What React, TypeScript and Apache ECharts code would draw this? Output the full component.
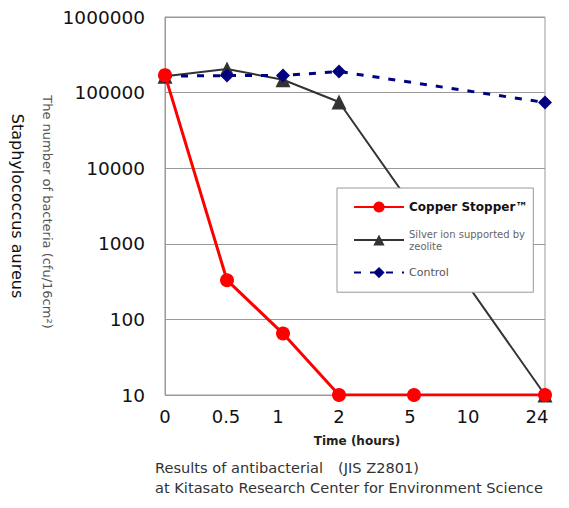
import React, { useEffect, useRef } from "react";
import * as echarts from "echarts";

// Time tick labels and their slot positions on the horizontal axis
const timeLabels = ["0", "0.5", "1", "2", "5", "10", "24"];
const labelSlots = [0, 12.2, 22.6, 34.8, 49, 60.6, 74.4];

// Slot positions at which measurements were plotted (0, 0.5, 1, 2, 5, 24 h)
const slot0 = 0;
const slot05 = 12.4;
const slot1 = 23.6;
const slot2 = 34.8;
const slot5 = 49.8;
const slot24 = 76;

const copperSlots = [slot0, slot05, slot1, slot2, slot5, slot24];
const copperValues = [170000, 330, 65, 10, 10, 10];

const silverSlots = [slot0, slot05, slot1, slot2, slot24];
const silverValues = [165000, 205000, 148000, 75000, 10];

const controlSlots = [slot0, slot05, slot1, slot2, slot24];
const controlValues = [165000, 168000, 168000, 190000, 74000];

const yTicks = [10, 100, 1000, 10000, 100000, 1000000];

const FONT = "DejaVu Sans, Verdana, sans-serif";

function zip(xs: number[], ys: number[]) {
  return xs.map((x, i) => [x, ys[i]]);
}

export default function App() {
  const ref = useRef<HTMLDivElement>(null);
  useEffect(() => {
    if (!ref.current) return;
    const chart = echarts.init(ref.current, null, { renderer: "svg" });
    chart.setOption({
      animation: false,
      backgroundColor: "#fff",
      grid: {
        left: 165,
        right: 24,
        top: 17,
        bottom: 113,
        show: true,
        borderColor: "#999",
        borderWidth: 1,
      },
      xAxis: {
        type: "value",
        min: 0,
        max: 76,
        axisLine: { show: false },
        axisTick: { show: false },
        splitLine: { show: false },
        axisLabel: {
          customValues: labelSlots,
          formatter: (v: number) => {
            const i = labelSlots.findIndex((s) => Math.abs(s - v) < 1e-6);
            return i >= 0 ? timeLabels[i] : "";
          },
          fontSize: 18,
          color: "#111",
          fontFamily: FONT,
          margin: 12,
        },
      },
      yAxis: {
        type: "log",
        logBase: 10,
        min: 10,
        max: 1000000,
        axisLine: { show: true, lineStyle: { color: "#999" } },
        axisTick: { show: false },
        splitLine: { show: true, lineStyle: { color: "#999", width: 1 } },
        axisLabel: {
          fontSize: 18.5,
          color: "#111",
          fontFamily: FONT,
          margin: 20,
          formatter: (v: number) => {
            const t = yTicks.find((k) => Math.abs(k - v) / k < 1e-6);
            return t !== undefined ? String(t) : "";
          },
        },
      },
      legend: {
        orient: "vertical",
        left: 337,
        top: 188,
        backgroundColor: "#fff",
        borderColor: "#999",
        borderWidth: 1,
        padding: [13, 6, 14, 16],
        itemGap: 15,
        itemWidth: 50,
        itemHeight: 14,
        data: [
          {
            name: "Copper Stopper™",
            textStyle: { fontWeight: "bold", fontSize: 12, color: "#111", fontFamily: FONT },
          },
          {
            name: "Silver ion supported by\nzeolite",
            textStyle: { fontSize: 10, color: "#666", fontFamily: FONT, lineHeight: 12 },
          },
          {
            name: "Control",
            textStyle: { fontSize: 11, color: "#555", fontFamily: FONT },
          },
        ],
      },
      series: [
        {
          name: "Silver ion supported by\nzeolite",
          type: "line",
          data: zip(silverSlots, silverValues),
          symbol: "triangle",
          symbolSize: 15,
          itemStyle: { color: "#333" },
          lineStyle: { color: "#333", width: 2 },
          z: 2,
        },
        {
          name: "Control",
          type: "line",
          data: zip(controlSlots, controlValues),
          symbol: "diamond",
          symbolSize: 14,
          itemStyle: { color: "#000080" },
          lineStyle: { color: "#000080", width: 3, type: [7, 9] },
          z: 3,
        },
        {
          name: "Copper Stopper™",
          type: "line",
          data: zip(copperSlots, copperValues),
          symbol: "circle",
          symbolSize: 14,
          itemStyle: { color: "#ff0000" },
          lineStyle: { color: "#ff0000", width: 3 },
          z: 4,
        },
      ],
      graphic: [
        {
          type: "text",
          x: 47,
          y: 212,
          rotation: -Math.PI / 2,
          style: {
            text: "The number of bacteria (cfu/16cm²)",
            fontSize: 13,
            fill: "#555",
            fontFamily: FONT,
            align: "center",
            verticalAlign: "middle",
          },
        },
        {
          type: "text",
          x: 17,
          y: 206,
          rotation: -Math.PI / 2,
          style: {
            text: "Staphylococcus aureus",
            fontSize: 16,
            fill: "#111",
            fontFamily: FONT,
            align: "center",
            verticalAlign: "middle",
          },
        },
        {
          type: "text",
          x: 357,
          y: 441,
          style: {
            text: "Time (hours)",
            fontSize: 12,
            fontWeight: "bold",
            fill: "#222",
            fontFamily: FONT,
            align: "center",
            verticalAlign: "middle",
          },
        },
        {
          type: "text",
          x: 155,
          y: 467,
          style: {
            text: "Results of antibacterial　(JIS Z2801)",
            fontSize: 14.6,
            fill: "#333",
            fontFamily: FONT,
            align: "left",
            verticalAlign: "middle",
          },
        },
        {
          type: "text",
          x: 155,
          y: 487,
          style: {
            text: "at Kitasato Research Center for Environment Science",
            fontSize: 14.6,
            fill: "#333",
            fontFamily: FONT,
            align: "left",
            verticalAlign: "middle",
          },
        },
      ],
    });
    return () => chart.dispose();
  }, []);
  return (
    <div
      ref={ref}
      style={{ width: 569, height: 508, position: "absolute", left: 0, top: 0 }}
    />
  );
}
